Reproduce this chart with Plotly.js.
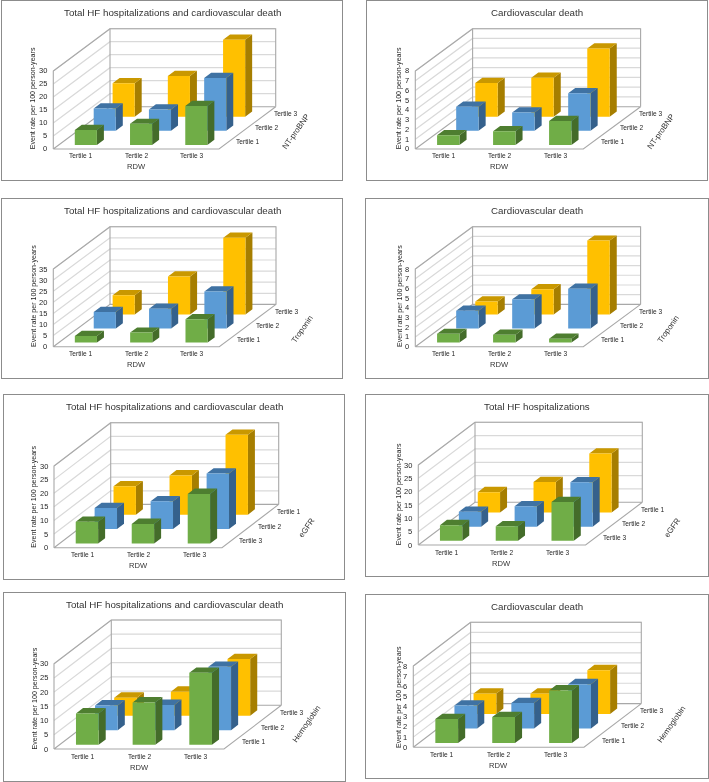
<!DOCTYPE html>
<html>
<head>
<meta charset="utf-8">
<script src="https://cdn.plot.ly/plotly-3.0.1.min.js"></script>
<style>html,body{margin:0;padding:0;background:#fff}#chart{width:709px;height:782px;filter:blur(0.4px)}</style>
</head>
<body>
<div id="chart"></div>
<script>
// ---- data: event rate per 100 person-years, [RDW Tertile 1, 2, 3] for each row (front row first)
const rdwTertiles = ["Tertile 1", "Tertile 2", "Tertile 3"];

const titles = [
  "Total HF hospitalizations and cardiovascular death", "Cardiovascular death",
  "Total HF hospitalizations and cardiovascular death", "Cardiovascular death",
  "Total HF hospitalizations and cardiovascular death", "Total HF hospitalizations",
  "Total HF hospitalizations and cardiovascular death", "Cardiovascular death"
];
const depthTitles = ["NT-proBNP", "NT-proBNP", "Troponin", "Troponin", "eGFR", "eGFR", "Hemoglobin", "Hemoglobin"];
const depthTicksAscending = ["Tertile 1", "Tertile 2", "Tertile 3"];
const depthTicksDescending = ["Tertile 3", "Tertile 2", "Tertile 1"];
const axisTops = [30, 8, 35, 8, 30, 30, 30, 8];
const axisSteps = [5, 1, 5, 1, 5, 5, 5, 1];

const p1Green = [5.7, 8.1, 15.0];   const p1Blue = [8.6, 8.2, 20.3];   const p1Yellow = [12.9, 15.7, 29.6];
const p2Green = [1.0, 1.4, 2.46];   const p2Blue = [2.46, 1.88, 3.86]; const p2Yellow = [3.45, 4.0, 7.0];
const p3Green = [3.0, 4.5, 10.5];   const p3Blue = [7.4, 8.9, 16.7];   const p3Yellow = [8.6, 17.1, 34.5];
const p4Green = [0.9, 0.82, 0.41];  const p4Blue = [1.82, 3.0, 4.1];   const p4Yellow = [1.34, 2.6, 7.6];
const p5Green = [8.0, 7.2, 18.2];   const p5Blue = [7.7, 10.2, 20.4];  const p5Yellow = [10.4, 14.4, 29.3];
const p6Green = [5.9, 5.5, 14.6];   const p6Blue = [5.6, 7.6, 16.6];   const p6Yellow = [7.6, 11.4, 22.1];
const p7Green = [11.0, 14.9, 25.3]; const p7Blue = [8.7, 8.9, 22.3];   const p7Yellow = [6.3, 8.4, 19.9];
const p8Green = [2.36, 2.56, 5.18]; const p8Blue = [2.26, 2.5, 4.36];  const p8Yellow = [2.0, 2.0, 4.3];

const greens = [p1Green, p2Green, p3Green, p4Green, p5Green, p6Green, p7Green, p8Green];
const blues = [p1Blue, p2Blue, p3Blue, p4Blue, p5Blue, p6Blue, p7Blue, p8Blue];
const yellows = [p1Yellow, p2Yellow, p3Yellow, p4Yellow, p5Yellow, p6Yellow, p7Yellow, p8Yellow];

// ---- layout of each panel, in page pixels (separate from the values)
const W = 709, H = 782;
const frames = [[2,1,342,180],[367,1,707,180],[2,199,342,378],[366,199,708,378],
                [4,395,344,579],[366,395,708,576],[4,593,345,781],[366,595,708,778]];
const origins = [[53.3,149],[415.3,149],[53.3,346.7],[415.3,346.7],[54,547.7],[418.3,545],[54,749],[413.3,747.3]];
const widths = [165.7,168,166,168,168,167.3,170,170.7];
const depthXs = [56.7,57.3,56.7,57.3,56.7,56.7,57.3,57.3];
const depthYs = [42.3,42.3,42.3,42.3,43.3,42.7,43.7,43.7];
const axisHeights = [78,78,77.7,77.7,81.7,80,85.3,81.3];
const yTitleOffsets = [-19.5,-15.5,-19.5,-15.5,-19.5,-19.5,-20,-15];
const depthTitlePos = [[243,17],[246,17],[249,17],[253,17],[253,20],[254,18],[252,25],[258,23]];
const faceColors = {
  green:  {front:"#70AD47", top:"#4E7E30", side:"#446C2A"},
  blue:   {front:"#5B9BD5", top:"#3F72A3", side:"#35618C"},
  yellow: {front:"#FFC000", top:"#C99800", side:"#A67E00"}
};
const TXT = "#333333", FONT = "Liberation Sans, Arial, sans-serif";

const traces = [], annotations = [], layout = {
  width: W, height: H, margin: {l:0,r:0,t:0,b:0}, showlegend: false,
  paper_bgcolor: "#fff", plot_bgcolor: "#fff", font: {family: FONT, color: TXT}
};

titles.forEach((title, p) => {
  const n = p + 1, xa = n === 1 ? "x" : "x" + n, ya = n === 1 ? "y" : "y" + n;
  const xk = n === 1 ? "xaxis" : "xaxis" + n, yk = n === 1 ? "yaxis" : "yaxis" + n;
  const [L,T,R,B] = frames[p], [ox,oy] = origins[p];
  const cw = widths[p] / 3, s = axisHeights[p] / axisTops[p];
  const kx = depthXs[p] / 3 / cw, ky = depthYs[p] / 3 / s;   // one row of depth in axis units
  const frameAxis = {showgrid:false, zeroline:false, showticklabels:false, ticks:"", fixedrange:true,
                     showline:true, mirror:true, linecolor:"#8C8C8C", linewidth:1.3};
  layout[xk] = Object.assign({}, frameAxis, {anchor:ya, domain:[L/W, R/W], range:[(L-ox)/cw, (R-ox)/cw]});
  layout[yk] = Object.assign({}, frameAxis, {anchor:xa, domain:[1-B/H, 1-T/H], range:[(oy-B)/s, (oy-T)/s]});

  const px = (u, v) => u + v * kx, py = (h, v) => h + v * ky;
  const top = axisTops[p];

  // gridlines on the back and side walls
  const gx = [], gy = [];
  for (let t = axisSteps[p]; t < top + 1e-6; t += axisSteps[p]) {
    gx.push(px(0,0), px(0,3), px(3,3), null);
    gy.push(py(t,0), py(t,3), py(t,3), null);
  }
  traces.push({x:gx, y:gy, xaxis:xa, yaxis:ya, mode:"lines", hoverinfo:"skip", line:{color:"#D9D9D9", width:1.2}});
  // walls and floor outline
  const ex = [px(0,0),px(0,3),px(3,3),px(3,0),px(0,0),null, px(0,0),px(0,0),px(0,3),px(3,3),px(3,3),null, px(0,3),px(0,3)];
  const ey = [py(0,0),py(0,3),py(0,3),py(0,0),py(0,0),null, py(0,0),py(top,0),py(top,3),py(top,3),py(0,3),null, py(0,3),py(top,3)];
  traces.push({x:ex, y:ey, xaxis:xa, yaxis:ya, mode:"lines", hoverinfo:"skip", line:{color:"#A8A8A8", width:1.1}});

  // bars, back row first
  const rows = [[yellows[p], "yellow", 2], [blues[p], "blue", 1], [greens[p], "green", 0]];
  rows.forEach(([vals, name, j]) => {
    const poly = {side:[[],[]], front:[[],[]], top:[[],[]]};
    vals.forEach((h, i) => {
      const u0 = i + 0.29, u1 = i + 0.69, v0 = j + 0.29, v1 = j + 0.66;
      const add = (f, pts) => {
        pts.forEach(([u,v,z]) => { poly[f][0].push(px(u,v)); poly[f][1].push(py(z,v)); });
        poly[f][0].push(null); poly[f][1].push(null);
      };
      add("side", [[u1,v0,0],[u1,v1,0],[u1,v1,h],[u1,v0,h],[u1,v0,0]]);
      add("top",  [[u0,v0,h],[u1,v0,h],[u1,v1,h],[u0,v1,h],[u0,v0,h]]);
      add("front",[[u0,v0,0],[u1,v0,0],[u1,v0,h],[u0,v0,h],[u0,v0,0]]);
    });
    ["side","top","front"].forEach(f => traces.push({
      x:poly[f][0], y:poly[f][1], xaxis:xa, yaxis:ya, mode:"lines", fill:"toself",
      fillcolor:faceColors[name][f], line:{width:0, color:faceColors[name][f]}, hoverinfo:"skip"
    }));
  });

  const note = (x, y, text, o) => annotations.push(Object.assign({
    xref:xa, yref:ya, x, y, text, showarrow:false, font:{size:6.6, color:"#1F1F1F", family:FONT},
    xanchor:"center", yanchor:"middle", borderpad:0
  }, o || {}));

  // value tick labels
  for (let t = 0; t < top + 1e-6; t += axisSteps[p]) note(-5/cw, t, String(t), {xanchor:"right", font:{size:7.5, color:"#1F1F1F", family:FONT}});
  // RDW tick labels and title
  rdwTertiles.forEach((c, i) => note(i + 0.5, -7/s, c));
  note(1.5, -18/s, "RDW", {font:{size:7.6, color:TXT, family:FONT}});
  // depth tick labels and title
  const dt = p === 4 || p === 5 ? depthTicksDescending : depthTicksAscending;
  dt.forEach((c, j) => note(px(3, j+0.5) + 7/cw, py(0, j+0.5), c, {xanchor:"left"}));
  note(depthTitlePos[p][0]/cw, depthTitlePos[p][1]/s, depthTitles[p], {textangle:-55, font:{size:8, color:TXT, family:FONT}});
  // value axis title
  note(yTitleOffsets[p]/cw, 50.5/s, "Event rate per 100 person-years", {textangle:-90, font:{size:7.1, color:"#262626", family:FONT}});
  // panel title
  annotations.push({xref:xa+" domain", yref:ya+" domain", x:0.5, y:1-11.5/(B-T), text:title, showarrow:false,
    xanchor:"center", yanchor:"middle", font:{size:9.75, color:TXT, family:FONT}});
});

layout.annotations = annotations;
Plotly.newPlot("chart", traces, layout, {displayModeBar:false, staticPlot:true});
</script>
</body>
</html>
